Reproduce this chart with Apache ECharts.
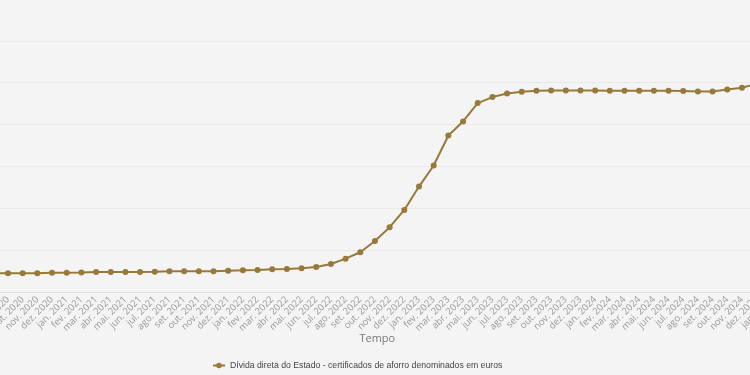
<!DOCTYPE html>
<html>
<head>
<meta charset="utf-8">
<script src="https://cdn.jsdelivr.net/npm/echarts@6/dist/echarts.min.js"></script>
<style>
html,body{margin:0;padding:0;background:#f4f4f4;}
#c{width:750px;height:375px;}
</style>
</head>
<body>
<div id="c"></div>
<script>
const categories = [
 'ago. 2020','set. 2020','out. 2020','nov. 2020','dez. 2020',
 'jan. 2021','fev. 2021','mar. 2021','abr. 2021','mai. 2021','jun. 2021','jul. 2021','ago. 2021','set. 2021','out. 2021','nov. 2021','dez. 2021',
 'jan. 2022','fev. 2022','mar. 2022','abr. 2022','mai. 2022','jun. 2022','jul. 2022','ago. 2022','set. 2022','out. 2022','nov. 2022','dez. 2022',
 'jan. 2023','fev. 2023','mar. 2023','abr. 2023','mai. 2023','jun. 2023','jul. 2023','ago. 2023','set. 2023','out. 2023','nov. 2023','dez. 2023',
 'jan. 2024','fev. 2024','mar. 2024','abr. 2024','mai. 2024','jun. 2024','jul. 2024','ago. 2024','set. 2024','out. 2024','nov. 2024','dez. 2024',
 'jan. 2025'
];
const values = [
 12230, 12237, 12240, 12245, 12308,
 12310, 12315, 12392, 12395, 12398, 12400, 12428, 12476, 12478, 12480, 12485, 12547,
 12595, 12631, 12715, 12751, 12835, 12990, 13349, 13983, 14748, 16100, 17738, 19800,
 22594, 25105, 28693, 30368, 32569, 33286, 33717, 33920, 34040, 34076, 34076, 34076,
 34076, 34040, 34040, 34040, 34040, 34040, 34004, 33956, 33956, 34195, 34398, 34877,
 35300
];
const seriesName = 'Dívida direta do Estado - certificados de aforro denominados em euros';
const yMin = 10000, yMax = 45000, yInterval = 5000;

const chart = echarts.init(document.getElementById('c'), null, {renderer:'canvas'});
chart.setOption({
  backgroundColor: '#f4f4f4',
  animation: false,
  grid: { left: -6.7, right: -21.3, top: -1, bottom: 83, containLabel: false, outerBoundsMode: 'none' },
  legend: {
    left: 207, top: 356,
    itemWidth: 12, itemHeight: 7,
    textStyle: { fontFamily: 'Liberation Sans', fontSize: 8.7, color: '#444' },
    data: [seriesName]
  },
  xAxis: {
    type: 'category',
    data: categories,
    boundaryGap: false,
    name: 'Tempo',
    nameLocation: 'middle',
    nameGap: 41,
    nameMoveOverlap: false,
    nameTextStyle: { fontFamily: 'Open Sans', fontSize: 11, color: '#777', padding: [0, 10, 0, 0] },
    axisLine: { lineStyle: { color: '#dfe4ec', width: 1 } },
    axisTick: { show: false },
    axisLabel: { interval: 0, rotate: 45, margin: 6, fontFamily: 'Open Sans', fontSize: 9.5, color: '#999' }
  },
  yAxis: {
    type: 'value',
    min: yMin, max: yMax, interval: yInterval,
    axisLabel: { show: false },
    axisLine: { show: false },
    axisTick: { show: false },
    splitLine: { lineStyle: { color: '#e9e9e9', width: 1 } }
  },
  series: [{
    name: seriesName,
    type: 'line',
    data: values,
    symbol: 'circle',
    symbolSize: 6,
    showSymbol: true,
    color: '#98793a',
    lineStyle: { width: 2, color: '#98793a' },
    itemStyle: { color: '#98793a' }
  }]
});
</script>
</body>
</html>
